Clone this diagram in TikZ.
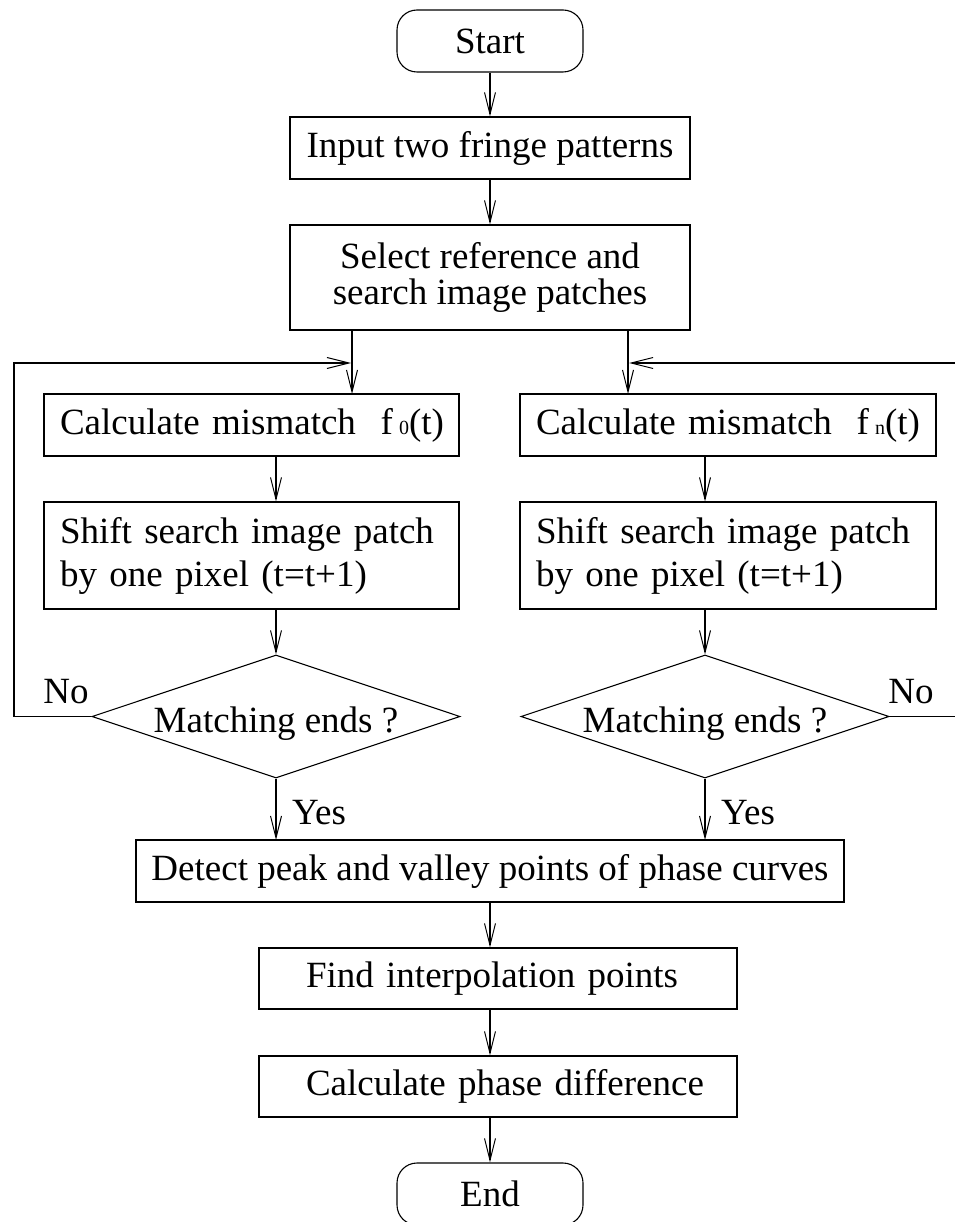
\documentclass[tikz,border=0pt]{standalone}
\usepackage{fontspec}
\setmainfont{Liberation Serif}
\usetikzlibrary{arrows.meta,shapes.geometric}
\newcommand{\smallidx}[1]{{\fontsize{20}{20}\selectfont #1}}
\tikzset{
  flow/.style={draw, line width=1.1pt, -{Straight Barb[length=22pt,width=11pt,line width=1pt]}},
  procbox/.style={draw, line width=1.1pt, rectangle, inner sep=0pt, align=center},
  leftbox/.style={draw, line width=1.1pt, rectangle, inner xsep=16pt, inner ysep=0pt, align=left},
  termbox/.style={draw, line width=1.1pt, rectangle, rounded corners=20pt, inner sep=0pt, minimum width=186pt, minimum height=62pt},
  decision/.style={draw, line width=1.1pt, diamond, inner sep=0pt, aspect=2.99, minimum width=368pt, minimum height=123pt},
  lbl/.style={inner sep=0pt}
}
\begin{document}
\begin{tikzpicture}[x=1pt,y=-1pt, font=\fontsize{37}{40}\selectfont]
\useasboundingbox (0,0) rectangle (954,1222);

\node[termbox] (start) at (490,41) {Start};
\node[procbox, minimum width=400pt, minimum height=62pt] (input) at (490,148) {Input two fringe patterns};
\node[procbox, minimum width=400pt, minimum height=105pt, font=\fontsize{37}{36}\selectfont] (select) at (490,277.5) {Select reference and\\search image patches};

\node[leftbox, text width=383pt, minimum height=62pt] (calcL) at (251.5,425) {\mbox{Calculate mismatch\ \ f\,\smallidx{0}(t)}};
\node[leftbox, text width=384pt, minimum height=62pt] (calcR) at (728,425) {\mbox{Calculate mismatch\ \ f\,\smallidx{n}(t)}};

\node[leftbox, text width=383pt, minimum height=107pt, font=\fontsize{37}{43}\selectfont] (shiftL) at (251.5,555.5) {\mbox{Shift search image patch}\\\mbox{by one pixel (t=t+1)}};
\node[leftbox, text width=384pt, minimum height=107pt, font=\fontsize{37}{43}\selectfont] (shiftR) at (728,555.5) {\mbox{Shift search image patch}\\\mbox{by one pixel (t=t+1)}};

\node[decision] (decL) at (276,716.5) {\raisebox{-7pt}[\height][\depth]{Matching ends ?}};
\node[decision] (decR) at (705,716.5) {\raisebox{-7pt}[\height][\depth]{Matching ends ?}};

\node[procbox, minimum width=708pt, minimum height=62pt] (detect) at (490,871) {Detect peak and valley points of phase curves};
\node[leftbox, inner xsep=47pt, text width=384pt, minimum height=61pt] (find) at (498,978.5) {\mbox{Find interpolation points}};
\node[leftbox, inner xsep=47pt, text width=384pt, minimum height=61pt] (phase) at (498,1086.5) {\mbox{Calculate phase difference}};
\node[termbox] (end) at (490,1194) {End};

\node[lbl] (noL) at (66,692) {No};
\node[lbl] (noR) at (911,692) {No};
\node[lbl] (yesL) at (319,813) {Yes};
\node[lbl] (yesR) at (748,813) {Yes};

\coordinate (selL) at (352,330);
\coordinate (selR) at (628,330);
\coordinate (inL) at (352,394);
\coordinate (inR) at (628,394);
\coordinate (loopL) at (14,363);
\coordinate (loopR) at (958,363);
\coordinate (meetL) at (351,363);
\coordinate (meetR) at (629,363);
\coordinate (yL) at (276,840);
\coordinate (yR) at (705,840);

\draw[flow] (start) -- (input);
\draw[flow] (input) -- (select);
\draw[flow] (selL) -- (inL);
\draw[flow] (selR) -- (inR);
\draw[flow] (calcL.south -| decL.north) -- (shiftL.north -| decL.north);
\draw[flow] (calcR.south -| decR.north) -- (shiftR.north -| decR.north);
\draw[flow] (shiftL.south -| decL.north) -- (decL.north);
\draw[flow] (shiftR.south -| decR.north) -- (decR.north);
\draw[flow] (decL.west) -| (loopL) -- (meetL);
\draw[flow] (decR.east) -| (loopR) -- (meetR);
\draw[flow] (decL.south) -- (yL);
\draw[flow] (decR.south) -- (yR);
\draw[flow] (detect) -- (detect.south |- find.north);
\draw[flow] (find.south -| detect.south) -- (phase.north -| detect.south);
\draw[flow] (phase.south -| detect.south) -- (end);
\end{tikzpicture}
\end{document}
